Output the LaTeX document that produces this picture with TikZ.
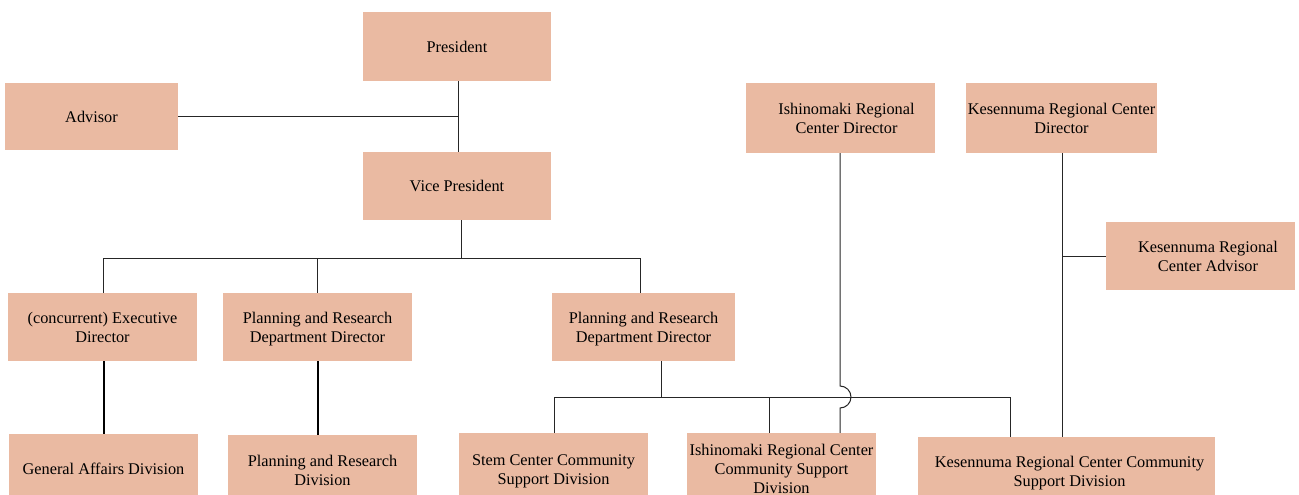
\documentclass[tikz,border=0pt]{standalone}
\usepackage{fontspec}
\setmainfont{Liberation Serif}
\definecolor{boxfill}{RGB}{234,186,162}
\newcommand{\bt}[2][0pt]{\hspace*{#1}\raisebox{-2pt}[\height][\depth]{\begin{tabular}{@{}c@{}}#2\end{tabular}}}
\begin{document}
\begin{tikzpicture}[x=1pt,y=-1pt,
  box/.style={fill=boxfill, draw=none, inner sep=2pt,
    font=\fontsize{16.3}{19}\selectfont},
  conn/.style={draw=black!85, line width=1pt},
  thick conn/.style={draw=black, line width=1.7pt}]
\useasboundingbox (0,0) rectangle (1299,495);
\clip (0,0) rectangle (1299,495);
% nodes
\node[box, minimum width=188pt, minimum height=69pt] (pres) at (457,46.5) {\bt{President}};
\node[box, minimum width=173pt, minimum height=67pt] (adv) at (91.5,116.5) {\bt{Advisor}};
\node[box, minimum width=188pt, minimum height=68pt] (vp) at (457,186) {\bt{Vice President}};
\node[box, minimum width=189pt, minimum height=70pt] (ishdir) at (840.5,118) {\bt[12pt]{Ishinomaki Regional\\Center Director}};
\node[box, minimum width=189pt, minimum height=70pt] (kesdir) at (1061.5,118) {\bt{Kesennuma Regional Center\\Director}};
\node[box, minimum width=189pt, minimum height=68pt] (kesadv) at (1200.5,256) {\bt[15pt]{Kesennuma Regional\\Center Advisor}};
\node[box, minimum width=189pt, minimum height=68pt] (exec) at (102.5,327) {\bt{(concurrent) Executive\\Director}};
\node[box, minimum width=189pt, minimum height=68pt] (prd1) at (317.5,327) {\bt{Planning and Research\\Department Director}};
\node[box, minimum width=183pt, minimum height=68pt] (prd2) at (643.5,327) {\bt{Planning and Research\\Department Director}};
\node[box, minimum width=189pt, minimum height=70pt] (gad) at (103.5,469) {\bt{General Affairs Division}};
\node[box, minimum width=189pt, minimum height=71pt] (prdiv) at (322.5,470.5) {\bt{Planning and Research\\Division}};
\node[box, minimum width=189pt, minimum height=73pt] (stem) at (553.5,469.5) {\bt{Stem Center Community\\Support Division}};
\node[box, minimum width=189pt, minimum height=72pt] (ishcom) at (781.5,469) {\bt{Ishinomaki Regional Center\\Community Support\\Division}};
\node[box, minimum width=297pt, minimum height=68pt] (kescom) at (1066.5,471) {\bt[6pt]{Kesennuma Regional Center Community\\Support Division}};
% helper coordinates
\coordinate (px) at (458,0);
\coordinate (vx) at (461,0);
\coordinate (bar1) at (0,258);
\coordinate (bar2) at (0,397);
\coordinate (d3x) at (640,0);
\coordinate (p2x) at (661,0);
\coordinate (ishx) at (769,0);
\coordinate (kesx) at (1010,0);
\coordinate (hopT) at (840,386);
\coordinate (hopB) at (840,408);
% connectors
\draw[conn] (pres.south -| px) -- (vp.north -| px);
\draw[conn] (adv.east) -- (adv.east -| px);
\draw[conn] (vp.south -| vx) -- (bar1 -| vx);
\draw[conn] (exec.north -| 103,0) |- (bar1 -| d3x) -- (prd2.north -| d3x);
\draw[conn] (prd1.north) -- (prd1.north |- bar1);
\draw[thick conn] (exec.south -| 104,0) -- (gad.north -| 104,0);
\draw[thick conn] (prd1.south -| 318,0) -- (prdiv.north -| 318,0);
\draw[conn] (prd2.south -| p2x) -- (bar2 -| p2x);
\draw[conn] (stem.north -| 554,0) |- (bar2 -| kesx) -- (kescom.north -| kesx);
\draw[conn] (bar2 -| ishx) -- (ishcom.north -| ishx);
\draw[conn] (ishdir.south -| hopT) -- (hopT) arc[start angle=90, end angle=-90, radius=11pt] -- (ishcom.north -| hopB);
\draw[conn] (kesdir.south -| 1062,0) -- (kescom.north -| 1062,0);
\draw[conn] (kesadv.west) -- (kesadv.west -| 1062,0);
\end{tikzpicture}
\end{document}
